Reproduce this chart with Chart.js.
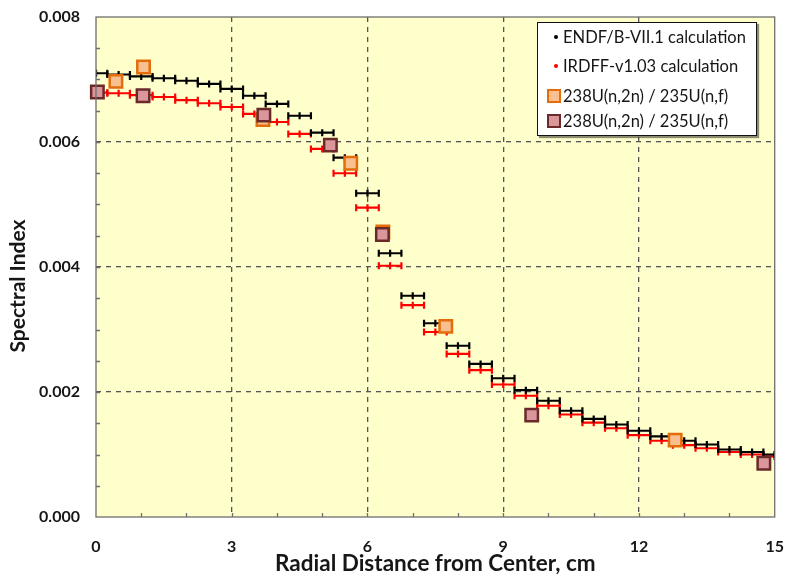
<!DOCTYPE html>
<html>
<head>
<meta charset="utf-8">
<script src="https://cdn.jsdelivr.net/npm/chart.js@4.4.1/dist/chart.umd.min.js"></script>
<style>
  html, body { margin: 0; padding: 0; background: #fff; }
  #wrap { position: relative; width: 786px; height: 577px; }
  #legend {
    position: absolute; left: 537px; top: 22px; width: 220px; height: 114px;
    box-sizing: border-box; background: #fff; border: 1.5px solid #111;
    box-shadow: 2px 2px 1px rgba(0,0,0,0.45);
    font-family: Lato, "Open Sans", sans-serif; font-size: 16.5px; color: #161616;
  }
  .row { position: absolute; left: 0; height: 20px; line-height: 20px; white-space: nowrap; }
  .dot { position: absolute; width: 4px; height: 4px; border-radius: 2px; left: 16px; top: 8px; }
  .sq { position: absolute; width: 10px; height: 10px; left: 9px; top: 3px; border: 2px solid; }
  .txt { position: absolute; left: 25px; top: 0; }
</style>
</head>
<body>
<div id="wrap">
  <canvas id="c" width="786" height="577"></canvas>
  <div id="legend">
    <div class="row" style="top:4px"><span class="dot" style="background:#000"></span><span class="txt">ENDF/B-VII.1 calculation</span></div>
    <div class="row" style="top:33px"><span class="dot" style="background:#f00"></span><span class="txt">IRDFF-v1.03 calculation</span></div>
    <div class="row" style="top:63px"><span class="sq" style="background:#f9bf8f;border-color:#e46c0a"></span><span class="txt">238U(n,2n) / 235U(n,f)</span></div>
    <div class="row" style="top:88px"><span class="sq" style="background:#d9979c;border-color:#6b2a2a"></span><span class="txt">238U(n,2n) / 235U(n,f)</span></div>
  </div>
</div>
<script>
// bins are 0.5 cm wide, centred on these radii
const binCenters = [0, 0.5, 1, 1.5, 2, 2.5, 3, 3.5, 4, 4.5, 5, 5.5, 6, 6.5, 7, 7.5,
                    8, 8.5, 9, 9.5, 10, 10.5, 11, 11.5, 12, 12.5, 13, 13.5, 14, 14.5, 15];
const binHalf = 0.25;

const endfValues = [0.00710, 0.00708, 0.00705, 0.00702, 0.00698, 0.00693, 0.00685, 0.00674,
                    0.00661, 0.00642, 0.00615, 0.00575, 0.00518, 0.00422, 0.00354, 0.00310,
                    0.00274, 0.00245, 0.00222, 0.00203, 0.00186, 0.00170, 0.00157, 0.00148,
                    0.00138, 0.00129, 0.00122, 0.00116, 0.00108, 0.00104, 0.00100];

const irdffValues = [0.00679, 0.00678, 0.00675, 0.00672, 0.00667, 0.00662, 0.00656, 0.00645,
                     0.00632, 0.00613, 0.00589, 0.00550, 0.00495, 0.00402, 0.00339, 0.00296,
                     0.00261, 0.00235, 0.00212, 0.00194, 0.00178, 0.00164, 0.00151, 0.00142,
                     0.00131, 0.00122, 0.00115, 0.00110, 0.00104, 0.00100, 0.00097];

const orangeX = [0.44, 1.05, 3.69, 5.63, 6.34, 7.73, 12.8];
const orangeY = [0.00697, 0.00720, 0.00636, 0.00566, 0.00456, 0.00305, 0.00123];

const brownX = [0.03, 1.04, 3.71, 5.18, 6.33, 9.63, 14.76];
const brownY = [0.00680, 0.00674, 0.00643, 0.00595, 0.00452, 0.00163, 0.00086];

const xTicks = [0, 3, 6, 9, 12, 15];
const yTicks = [0, 0.002, 0.004, 0.006, 0.008];

const X_MIN = 0, X_MAX = 15, Y_MIN = 0, Y_MAX = 0.008;
const FONT = 'Lato, "Open Sans", sans-serif';

// each bin: horizontal bar with caps at both ends and a tick at the centre
function stepPoints(values) {
    const pts = [];
    binCenters.forEach((c, i) => {
        const lo = Math.max(X_MIN, c - binHalf);
        const hi = Math.min(X_MAX, c + binHalf);
        pts.push({ x: lo, y: values[i] }, { x: c, y: values[i] }, { x: hi, y: values[i] }, { x: hi, y: null });
    });
    return pts;
}

const toPoints = (xs, ys) => xs.map((x, i) => ({ x, y: ys[i] }));

const plotDecor = {
    id: 'plotDecor',
    beforeDraw(chart) {
        const { ctx, chartArea: a } = chart;
        ctx.save();
        ctx.fillStyle = '#ffffcc';
        ctx.fillRect(a.left, a.top, a.right - a.left, a.bottom - a.top);
        ctx.restore();
    },
    afterDatasetsDraw(chart) {
        const { ctx, chartArea: a, scales } = chart;
        ctx.save();
        ctx.strokeStyle = '#6e6e6e';
        ctx.lineWidth = 1.3;
        // minor ticks, pointing inward
        ctx.beginPath();
        for (let v = 1; v < X_MAX; v++) {
            const px = Math.round(scales.x.getPixelForValue(v)) + 0.5;
            ctx.moveTo(px, a.bottom);
            ctx.lineTo(px, a.bottom - 4);
        }
        for (let v = 0.0005; v < Y_MAX; v += 0.0005) {
            const py = Math.round(scales.y.getPixelForValue(v)) + 0.5;
            ctx.moveTo(a.left, py);
            ctx.lineTo(a.left + 4, py);
        }
        ctx.stroke();
        ctx.strokeRect(a.left, a.top, a.right - a.left, a.bottom - a.top);

        // y axis title
        ctx.fillStyle = '#161616';
        ctx.font = 'bold 21px ' + FONT;
        ctx.textAlign = 'center';
        ctx.textBaseline = 'middle';
        ctx.translate(18, 286);
        ctx.rotate(-Math.PI / 2);
        ctx.fillText('Spectral Index', 0, 0);
        ctx.restore();
    }
};

const capStyle = {
    pointStyle: 'line', rotation: 90, pointRadius: 3.5, pointHoverRadius: 3.5,
    pointBorderWidth: 2.2, borderWidth: 2.2, spanGaps: false, fill: false
};

const markerStyle = {
    showLine: false, pointStyle: 'rect', pointRadius: 8.8, pointHoverRadius: 8.8,
    pointBorderWidth: 2.5, clip: false
};

new Chart(document.getElementById('c'), {
    type: 'line',
    data: {
        datasets: [
            Object.assign({ label: '238U(n,2n) / 235U(n,f)', data: toPoints(brownX, brownY),
                pointBackgroundColor: '#d9979c', pointBorderColor: '#6b2a2a' }, markerStyle),
            Object.assign({ label: '238U(n,2n) / 235U(n,f)', data: toPoints(orangeX, orangeY),
                pointBackgroundColor: '#f9bf8f', pointBorderColor: '#e46c0a' }, markerStyle),
            Object.assign({ label: 'ENDF/B-VII.1 calculation', data: stepPoints(endfValues),
                borderColor: '#000', pointBorderColor: '#000' }, capStyle),
            Object.assign({ label: 'IRDFF-v1.03 calculation', data: stepPoints(irdffValues),
                borderColor: '#ff0000', pointBorderColor: '#ff0000' }, capStyle)
        ]
    },
    options: {
        responsive: false,
        animation: false,
        events: [],
        layout: { padding: { top: 17, right: 11, left: 0, bottom: 0 } },
        plugins: { legend: { display: false }, tooltip: { enabled: false } },
        scales: {
            x: {
                type: 'linear', min: X_MIN, max: X_MAX,
                afterFit: s => { s.height = 60; s.paddingLeft = 0; s.paddingRight = 0; },
                afterBuildTicks: s => { s.ticks = xTicks.map(v => ({ value: v })); },
                ticks: { padding: 20, color: '#161616', font: { family: FONT, size: 16, weight: 'bold' },
                         callback: v => String(v) },
                grid: { drawTicks: false, lineWidth: 1.3,
                        color: c => (c.tick && (c.tick.value <= X_MIN || c.tick.value >= X_MAX)) ? 'transparent' : '#555' },
                border: { display: false, dash: [5, 5] },
                title: { display: true, text: 'Radial Distance from Center, cm', color: '#161616',
                         font: { family: FONT, size: 22.5, weight: 'bold' }, padding: { top: 0, bottom: 0 } }
            },
            y: {
                type: 'linear', min: Y_MIN, max: Y_MAX,
                afterFit: s => { s.width = 96; s.paddingTop = 0; s.paddingBottom = 0; },
                afterBuildTicks: s => { s.ticks = yTicks.map(v => ({ value: v })); },
                ticks: { padding: 16, color: '#161616', font: { family: FONT, size: 16, weight: 'bold' },
                         callback: v => v.toFixed(3) },
                grid: { drawTicks: false, lineWidth: 1.3,
                        color: c => (c.tick && (c.tick.value <= Y_MIN || c.tick.value >= Y_MAX - 1e-9)) ? 'transparent' : '#555' },
                border: { display: false, dash: [5, 5] }
            }
        }
    },
    plugins: [plotDecor]
});
</script>
</body>
</html>
